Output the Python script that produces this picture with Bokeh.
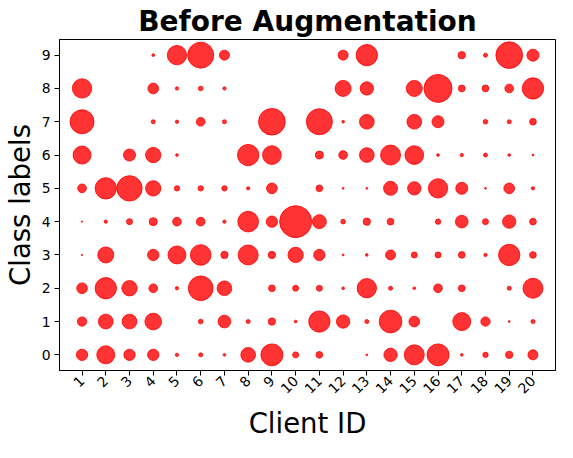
import numpy as np
from bokeh.plotting import figure
from bokeh.models import ColumnDataSource, Range1d, FixedTicker
from bokeh.embed import file_html
from bokeh.resources import INLINE

clients = list(range(1, 21))
class_ids = list(range(10))

# approximate sample counts per class (one value per client 1..20)
class_0 = [72, 182, 72, 72, 6, 9, 4, 121, 272, 20, 25, 0, 2, 100, 225, 272, 4, 16, 30, 56]
class_1 = [49, 121, 121, 156, 0, 12, 90, 9, 30, 4, 256, 100, 9, 289, 64, 0, 182, 49, 2, 9]
class_2 = [64, 256, 132, 42, 6, 342, 121, 0, 25, 20, 20, 4, 210, 9, 4, 42, 25, 0, 9, 225]
class_3 = [1, 144, 0, 72, 182, 240, 30, 225, 30, 132, 72, 2, 4, 56, 20, 20, 25, 6, 256, 25]
class_4 = [1, 6, 20, 36, 42, 42, 6, 240, 72, 576, 110, 12, 30, 25, 0, 16, 90, 20, 100, 25]
class_5 = [42, 256, 361, 132, 16, 16, 16, 6, 64, 0, 25, 2, 2, 110, 100, 210, 81, 2, 64, 6]
class_6 = [182, 0, 81, 132, 4, 0, 0, 256, 196, 0, 36, 42, 121, 225, 196, 4, 6, 9, 4, 2]
class_7 = [324, 0, 0, 9, 6, 42, 9, 0, 400, 0, 380, 4, 121, 0, 121, 81, 0, 12, 9, 25]
class_8 = [210, 0, 0, 64, 6, 12, 6, 0, 0, 0, 0, 144, 100, 0, 144, 441, 25, 25, 42, 256]
class_9 = [0, 0, 0, 4, 210, 380, 56, 0, 0, 0, 0, 56, 256, 0, 0, 0, 30, 9, 400, 81]

counts_by_class = [class_0, class_1, class_2, class_3, class_4,
                   class_5, class_6, class_7, class_8, class_9]

xs, ys, ns = [], [], []
for label, row in zip(class_ids, counts_by_class):
    for c, n in zip(clients, row):
        if n > 0:
            xs.append(c)
            ys.append(label)
            ns.append(n)

sizes = list(np.sqrt(np.array(ns, dtype=float)) * 4.0 / 3.0)
src = ColumnDataSource(dict(x=xs, y=ys, n=ns, size=sizes))

FONT = "DejaVu Sans"

p = figure(width=557, height=442, output_backend="svg", toolbar_location=None,
           x_range=Range1d(0.05, 20.95), y_range=Range1d(-0.47, 9.47),
           min_border_left=51, min_border_right=2, min_border_top=32,
           min_border_bottom=60)

p.scatter(x="x", y="y", size="size", source=src, fill_color="red",
          fill_alpha=0.8, line_color="red", line_alpha=0.8, line_width=1)

p.title.text = "Before Augmentation"
p.title.text_font = FONT
p.title.text_font_size = "28px"
p.title.text_font_style = "bold"
p.title.align = "center"
p.title.text_color = "black"
p.title.standoff = 4

p.xgrid.visible = False
p.ygrid.visible = False
p.outline_line_color = "black"
p.outline_line_width = 1
p.outline_line_alpha = 1.0
p.background_fill_color = "white"
p.border_fill_color = "white"

p.xaxis.ticker = FixedTicker(ticks=clients)
p.yaxis.ticker = FixedTicker(ticks=class_ids)
p.xaxis.major_label_orientation = np.pi / 4

for ax in (p.xaxis, p.yaxis):
    ax.axis_line_color = "black"
    ax.major_tick_line_color = "black"
    ax.major_tick_out = 5
    ax.major_tick_in = 0
    ax.minor_tick_line_color = None
    ax.major_label_text_font = FONT
    ax.major_label_text_font_size = "13.9px"
    ax.major_label_text_color = "black"
    ax.axis_label_text_font = FONT
    ax.axis_label_text_font_size = "27.5px"
    ax.axis_label_text_font_style = "normal"
    ax.axis_label_text_color = "black"

p.xaxis.major_label_standoff = 3
p.xaxis.axis_label_standoff = 6
p.yaxis.major_label_standoff = 4
p.yaxis.axis_label_standoff = 3

p.xaxis.axis_label = "Client ID"
p.yaxis.axis_label = "Class labels"

open("out.html", "w").write(file_html(p, INLINE))
